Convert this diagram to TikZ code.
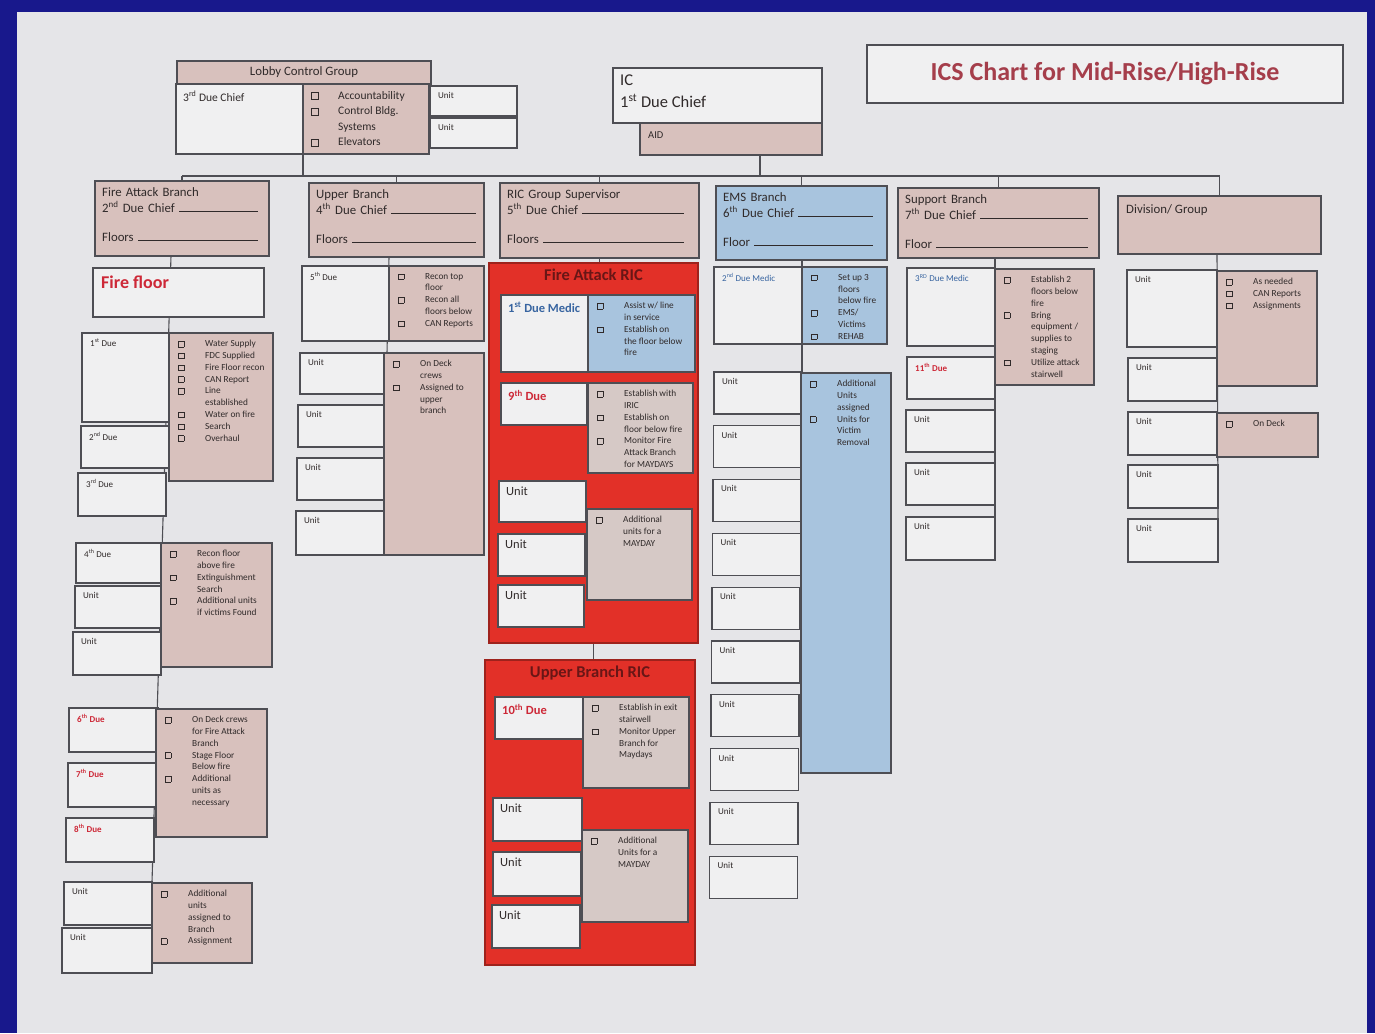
\documentclass[tikz,border=0pt]{standalone}
\usepackage{fontspec}
\setmainfont{Carlito}
\usepackage{tikz}
\usetikzlibrary{positioning,backgrounds}

\definecolor{framebl}{RGB}{24,24,140}
\definecolor{chartpaper}{RGB}{229,229,232}
\definecolor{cellwhite}{RGB}{240,240,241}
\definecolor{cellpink}{RGB}{216,193,189}
\definecolor{cellgrey}{RGB}{214,201,198}
\definecolor{cellblue}{RGB}{168,196,222}
\definecolor{ricred}{RGB}{226,48,40}
\definecolor{edge}{RGB}{78,78,84}
\definecolor{ink}{RGB}{48,42,42}
\definecolor{duered}{RGB}{205,40,55}
\definecolor{medicblue}{RGB}{55,100,160}
\definecolor{titlered}{RGB}{165,62,75}
\definecolor{ricink}{RGB}{105,22,22}

\newcommand{\chkbox}{{\setlength{\fboxsep}{0pt}\setlength{\fboxrule}{0.5pt}\fbox{\rule{0pt}{0.55em}\rule{0.55em}{0pt}}}}
\newcommand{\ck}{\makebox[27pt][l]{\chkbox}}
\newcommand{\nk}{\hspace*{27pt}}
\newcommand{\blank}{\leaders\hrule height 0.7pt\hskip 0pt plus 1fill\mbox{}}
\newcommand{\fsmall}{\fontsize{9}{11.8}\selectfont}
\newcommand{\flist}{\fontsize{9.3}{11.8}\selectfont}
\newcommand{\flobby}{\fontsize{11.5}{15.5}\selectfont}
\newcommand{\fhead}{\fontsize{12.8}{16}\selectfont}
\newcommand{\fbig}{\fontsize{12.5}{15}\selectfont}
\newcommand{\fic}{\fontsize{16.5}{22}\selectfont}
\newcommand{\fric}{\fontsize{16.5}{20}\selectfont}
\newcommand{\ftitle}{\fontsize{26}{30}\selectfont}

\tikzset{
  x=1pt, y=-1pt,
  cell/.style={draw=edge, line width=1.1pt, anchor=north west, inner sep=0pt, outer sep=0pt},
  wbox/.style={cell, fill=cellwhite},
  pbox/.style={cell, fill=cellpink},
  gbox/.style={cell, fill=cellgrey},
  bbox/.style={cell, fill=cellblue},
  rpanel/.style={cell, fill=ricred, draw=ricred!70!black},
  wh/.style 2 args={minimum width=#1pt, minimum height=#2pt},
  lbl/.style={anchor=north west, inner sep=0pt, align=left, text=ink, font=\fsmall},
  tag/.style={label={[lbl, xshift=8pt, yshift=-6pt]north west:#1}},
  redtag/.style={label={[lbl, xshift=8pt, yshift=-6pt, text=duered, font=\fsmall\bfseries]north west:#1}},
  bluetag/.style={label={[lbl, xshift=8pt, yshift=-6pt, text=medicblue]north west:#1}},
  bigtag/.style={label={[lbl, xshift=7pt, yshift=-6pt, font=\fbig]north west:#1}},
  bigred/.style={label={[lbl, xshift=7pt, yshift=-7pt, text=duered, font=\fbig\bfseries]north west:#1}},
  bigblue/.style={label={[lbl, xshift=7pt, yshift=-7pt, text=medicblue, font=\fbig\bfseries]north west:#1}},
  list/.style={label={[lbl, xshift=9pt, yshift=-7pt, font=\flist]north west:#1}},
  hdtag/.style 2 args={label={[lbl, xshift=7pt, yshift=-6pt, font=\fhead, text width=#1pt]north west:#2}},
  rictitle/.style={label={[anchor=north, inner sep=0pt, yshift=-6pt, text=ricink, font=\fric\bfseries]north:#1}},
  link/.style={draw=edge, line width=1.1pt},
}

\begin{document}
\begin{tikzpicture}
  \useasboundingbox (0,0) rectangle (1375,1033);
  % title and command
  \node[cell, fill=cellwhite, wh={476}{58}, text=titlered, font=\ftitle\bfseries] (title) at (867,45) {ICS Chart for Mid-Rise/High-Rise};
  \node[wbox, wh={209}{55}, label={[lbl, xshift=7pt, yshift=-7pt, font=\fic]north west:IC\\1\textsuperscript{st} Due Chief}] (ic) at (613,68) {};
  \node[pbox, wh={182}{32}, label={[lbl, xshift=8pt, yshift=-9pt, font=\fontsize{10.5}{12}\selectfont]north west:AID}] (aid) at (640,123) {};
  % lobby control group
  \node[pbox, wh={254}{23}, font=\fhead, text=ink] (lobbyhead) at (177,61) {Lobby Control Group};
  \node[wbox, wh={127}{70}, label={[lbl, xshift=7pt, yshift=-7pt, font=\flobby]north west:3\textsuperscript{rd} Due Chief}] (lobbychief) at (176,84) {};
  \node[pbox, wh={126}{70}, label={[lbl, xshift=8pt, yshift=-7pt, font=\flobby]north west:\ck Accountability\\\ck Control Bldg.\\\nk Systems\\\ck Elevators}] (lobbytask) at (303,84) {};
  \node[wbox, wh={87}{30}, tag=Unit] (lobbyunit1) at (430,86) {};
  \node[wbox, wh={87}{30}, tag=Unit] (lobbyunit2) at (430,118) {};
  % branch headers
  \node[pbox, wh={174}{75}, hdtag={156}{Fire Attack Branch\\2\textsuperscript{nd} Due Chief \blank\\[13pt]Floors \blank}] (fab) at (95,181) {};
  \node[pbox, wh={175}{74}, hdtag={160}{Upper Branch\\4\textsuperscript{th} Due Chief \blank\\[13pt]Floors \blank}] (ub) at (309,183) {};
  \node[pbox, wh={199}{75}, hdtag={177}{RIC Group Supervisor\\5\textsuperscript{th} Due Chief \blank\\[13pt]Floors \blank}] (ric) at (500,183) {};
  \node[bbox, wh={171}{74}, hdtag={150}{EMS Branch\\6\textsuperscript{th} Due Chief \blank\\[13pt]Floor \blank}] (ems) at (716,186) {};
  \node[pbox, wh={201}{70}, hdtag={183}{Support Branch\\7\textsuperscript{th} Due Chief \blank\\[13pt]Floor \blank}] (sup) at (898,188) {};
  \node[pbox, wh={203}{58}, label={[lbl, xshift=8pt, yshift=-8pt, font=\fhead]north west:Division/ Group}] (div) at (1118,196) {};

  % fire attack branch
  \node[wbox, wh={171}{49}, label={[lbl, xshift=8pt, yshift=-8pt, text=duered, font=\fontsize{18}{20}\selectfont\bfseries]north west:Fire floor}] (firefloor) at (93,268) {};
  \node[wbox, wh={89}{89}, tag={1\textsuperscript{st} Due}] (due1) at (82,333) {};
  \node[wbox, wh={89}{42}, tag={2\textsuperscript{nd} Due}] (due2) at (81,426) {};
  \node[wbox, wh={88}{43}, tag={3\textsuperscript{rd} Due}] (due3) at (78,473) {};
  \node[pbox, wh={104}{148}, list={\ck Water Supply\\\ck FDC Supplied\\\ck Fire Floor recon\\\ck CAN Report\\\ck Line\\\nk established\\\ck Water on fire\\\ck Search\\\ck Overhaul}] (fatask1) at (169,333) {};
  \node[wbox, wh={88}{40}, tag={4\textsuperscript{th} Due}] (due4) at (76,543) {};
  \node[wbox, wh={87}{42}, tag=Unit] (faunit1) at (75,586) {};
  \node[wbox, wh={88}{43}, tag=Unit] (faunit2) at (73,632) {};
  \node[pbox, wh={111}{124}, list={\ck Recon floor\\\nk above fire\\\ck Extinguishment\\\nk Search\\\ck Additional units\\\nk if victims Found}] (fatask2) at (161,543) {};
  \node[wbox, wh={89}{44}, redtag={6\textsuperscript{th} Due}] (due6) at (69,708) {};
  \node[wbox, wh={89}{44}, redtag={7\textsuperscript{th} Due}] (due7) at (68,763) {};
  \node[wbox, wh={88}{44}, redtag={8\textsuperscript{th} Due}] (due8) at (66,818) {};
  \node[pbox, wh={111}{128}, list={\ck On Deck crews\\\nk for Fire Attack\\\nk Branch\\\ck Stage Floor\\\nk Below fire\\\ck Additional\\\nk units as\\\nk necessary}] (fatask3) at (156,709) {};
  \node[wbox, wh={88}{43}, tag=Unit] (faunit3) at (64,882) {};
  \node[wbox, wh={90}{45}, tag=Unit] (faunit4) at (62,928) {};
  \node[pbox, wh={100}{80}, list={\ck Additional\\\nk units\\\nk assigned to\\\nk Branch\\\ck Assignment}] (fatask4) at (152,883) {};

  % upper branch
  \node[wbox, wh={87}{75}, tag={5\textsuperscript{th} Due}] (due5) at (302,266) {};
  \node[pbox, wh={95}{75}, list={\ck Recon top\\\nk floor\\\ck Recon all\\\nk floors below\\\ck CAN Reports}] (ubtask1) at (389,266) {};
  \node[wbox, wh={87}{41}, tag=Unit] (ubunit1) at (300,353) {};
  \node[wbox, wh={88}{42}, tag=Unit] (ubunit2) at (298,405) {};
  \node[wbox, wh={88}{42}, tag=Unit] (ubunit3) at (297,458) {};
  \node[wbox, wh={88}{44}, tag=Unit] (ubunit4) at (296,511) {};
  \node[pbox, wh={100}{202}, list={\ck On Deck\\\nk crews\\\ck Assigned to\\\nk upper\\\nk branch}] (ubtask2) at (384,353) {};

  % fire attack RIC
  \node[rpanel, wh={209}{380}, rictitle=Fire Attack RIC] (ricpanel) at (489,263) {};
  \node[wbox, wh={87}{77}, bigblue={1\textsuperscript{st} Due Medic}] (medic1) at (501,295) {};
  \node[bbox, wh={107}{77}, list={\ck Assist w/ line\\\nk in service\\\ck Establish on\\\nk the floor below\\\nk fire}] (medic1task) at (588,295) {};
  \node[wbox, wh={86}{42}, bigred={9\textsuperscript{th} Due}] (due9) at (501,383) {};
  \node[gbox, wh={105}{90}, list={\ck Establish with\\\nk IRIC\\\ck Establish on\\\nk floor below fire\\\ck Monitor Fire\\\nk Attack Branch\\\nk for MAYDAYS}] (due9task) at (588,383) {};
  \node[wbox, wh={87}{41}, bigtag=Unit] (ricunit1) at (499,481) {};
  \node[wbox, wh={87}{42}, bigtag=Unit] (ricunit2) at (498,534) {};
  \node[wbox, wh={86}{42}, bigtag=Unit] (ricunit3) at (498,585) {};
  \node[gbox, wh={105}{91}, list={\ck Additional\\\nk units for a\\\nk MAYDAY}] (ricunittask) at (587,509) {};

  % upper branch RIC
  \node[rpanel, wh={210}{305}, rictitle=Upper Branch RIC] (ubricpanel) at (485,660) {};
  \node[wbox, wh={88}{42}, bigred={10\textsuperscript{th} Due}] (due10) at (495,697) {};
  \node[gbox, wh={106}{91}, list={\ck Establish in exit\\\nk stairwell\\\ck Monitor Upper\\\nk Branch for\\\nk Maydays}] (due10task) at (583,697) {};
  \node[wbox, wh={89}{43}, bigtag=Unit] (ubricunit1) at (493,798) {};
  \node[wbox, wh={88}{44}, bigtag=Unit] (ubricunit2) at (493,852) {};
  \node[wbox, wh={88}{43}, bigtag=Unit] (ubricunit3) at (492,905) {};
  \node[gbox, wh={106}{92}, list={\ck Additional\\\nk Units for a\\\nk MAYDAY}] (ubricunittask) at (582,830) {};

  % EMS branch
  \node[wbox, wh={88}{77}, bluetag={2\textsuperscript{nd} Due Medic}] (medic2) at (714,267) {};
  \node[bbox, wh={85}{77}, list={\ck Set up 3\\\nk floors\\\nk below fire\\\ck EMS/\\\nk Victims\\\ck REHAB}] (medic2task) at (802,267) {};
  \foreach \i in {0,...,9}
    \node[wbox, wh={88}{42}, tag=Unit] (emsunit\i) at ({714-0.5*\i},{372+53.8*\i}) {};
  \node[bbox, wh={90}{400}, list={\ck Additional\\\nk Units\\\nk assigned\\\ck Units for\\\nk Victim\\\nk Removal}] (emstask) at (801,373) {};

  % support branch
  \node[wbox, wh={88}{78}, bluetag={3\textsuperscript{RD} Due Medic}] (medic3) at (907,268) {};
  \node[wbox, wh={88}{42}, redtag={11\textsuperscript{th} Due}] (due11) at (907,357) {};
  \node[pbox, wh={99}{116}, list={\ck Establish 2\\\nk floors below\\\nk fire\\\ck Bring\\\nk equipment /\\\nk supplies to\\\nk staging\\\ck Utilize attack\\\nk stairwell}] (medic3task) at (995,269) {};
  \node[wbox, wh={89}{42}, tag=Unit] (supunit1) at (906,410) {};
  \node[wbox, wh={89}{42}, tag=Unit] (supunit2) at (906,463) {};
  \node[wbox, wh={89}{43}, tag=Unit] (supunit3) at (906,517) {};

  % division / group
  \node[wbox, wh={90}{77}, tag=Unit] (divunit1) at (1127,270) {};
  \node[pbox, wh={100}{115}, list={\ck As needed\\\ck CAN Reports\\\ck Assignments}] (divtask1) at (1217,271) {};
  \node[wbox, wh={89}{43}, tag=Unit] (divunit2) at (1128,358) {};
  \node[wbox, wh={89}{43}, tag=Unit] (divunit3) at (1128,412) {};
  \node[pbox, wh={101}{44}, list={\ck On Deck}] (divtask2) at (1217,413) {};
  \node[wbox, wh={90}{43}, tag=Unit] (divunit4) at (1128,465) {};
  \node[wbox, wh={90}{43}, tag=Unit] (divunit5) at (1128,519) {};

  \begin{scope}[on background layer]
    % frame and sheet
    \fill[framebl] (0,0) rectangle (1375,1033);
    \fill[chartpaper] (17,12) rectangle (1367,1033);
    % bus line
    \coordinate (bus) at (0,176);
    \draw[link] (fab.north |- bus) -- (div.north |- bus);
    \foreach \b in {fab,ub,ric,ems,sup,div}
      \draw[link] (\b.north) -- (\b.north |- bus);
    \draw[link] (lobbychief.south east) -- (lobbychief.south east |- bus);
    \draw[link] ([xshift=29pt]aid.south) -- ([xshift=29pt]aid.south |- bus);
    % column spines
    \draw[link] (fab.south -| due1.north east) -- (faunit3.north east);
    \draw[link] (ub.south -| due5.north east) -- (ubunit1.north east);
    \draw[link] (ric.south) -- (ric.south |- ricpanel.north);
    \draw[link] (ricpanel.south) -- (ricpanel.south |- ubricpanel.north);
    \draw[link] (ems.south -| medic2.north east) -- (emsunit0.north east);
    \draw[link] (sup.south -| medic3.north east) -- (supunit3.north east);
    \draw[link] (div.south -| divunit1.north east) -- (divunit5.north east);
  \end{scope}
\end{tikzpicture}
\end{document}
